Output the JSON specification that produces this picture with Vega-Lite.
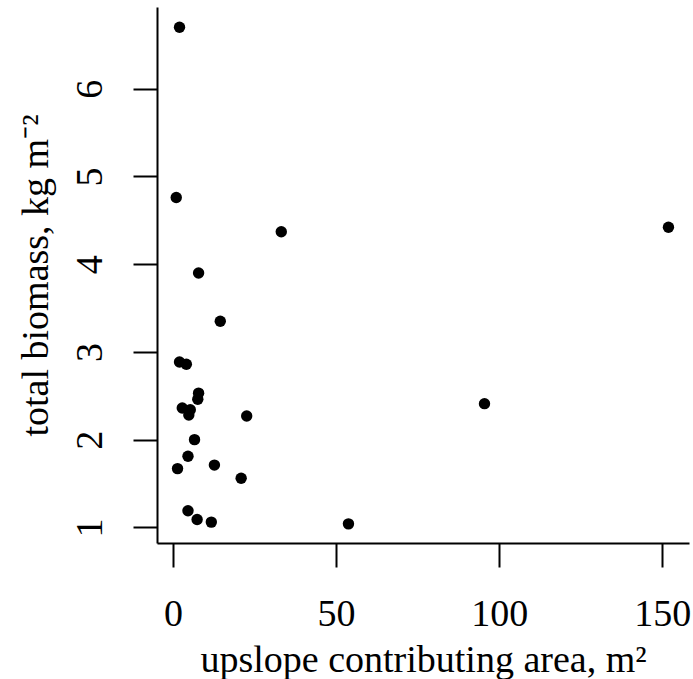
{
  "$schema": "https://vega.github.io/schema/vega-lite/v6.json",
  "autosize": {"type": "none"},
  "width": 532,
  "height": 536,
  "padding": {"left": 157, "top": 7, "right": 4, "bottom": 136},
  "background": "white",
  "data": {
    "values": [
      {"area": 2.0, "biomass": 6.70},
      {"area": 1.0, "biomass": 4.76},
      {"area": 33.2, "biomass": 4.37},
      {"area": 151.9, "biomass": 4.42},
      {"area": 7.85, "biomass": 3.90},
      {"area": 14.5, "biomass": 3.35},
      {"area": 2.0, "biomass": 2.885},
      {"area": 4.1, "biomass": 2.86},
      {"area": 7.85, "biomass": 2.53},
      {"area": 7.6, "biomass": 2.46},
      {"area": 2.85, "biomass": 2.36},
      {"area": 5.3, "biomass": 2.34},
      {"area": 4.85, "biomass": 2.28},
      {"area": 95.5, "biomass": 2.41},
      {"area": 22.6, "biomass": 2.27},
      {"area": 6.6, "biomass": 2.0},
      {"area": 4.6, "biomass": 1.81},
      {"area": 1.4, "biomass": 1.67},
      {"area": 12.7, "biomass": 1.71},
      {"area": 20.9, "biomass": 1.56},
      {"area": 4.6, "biomass": 1.19},
      {"area": 7.4, "biomass": 1.09},
      {"area": 11.75, "biomass": 1.06},
      {"area": 53.8, "biomass": 1.04}
    ]
  },
  "mark": {"type": "circle", "color": "black", "opacity": 1, "size": 130},
  "encoding": {
    "x": {
      "field": "area",
      "type": "quantitative",
      "scale": {"domain": [-4.9, 158.2], "nice": false, "zero": false},
      "axis": {
        "title": "upslope contributing area, m²",
        "values": [0, 50, 100, 150],
        "labelPadding": 28,
        "titlePadding": 8
      }
    },
    "y": {
      "field": "biomass",
      "type": "quantitative",
      "scale": {"domain": [0.822, 6.931], "nice": false, "zero": false},
      "axis": {
        "title": "total biomass, kg m⁻²",
        "values": [1, 2, 3, 4, 5, 6],
        "labelAngle": -90,
        "labelAlign": "center",
        "labelBaseline": "bottom",
        "labelPadding": 24,
        "titlePadding": 16
      }
    }
  },
  "config": {
    "view": {"stroke": null},
    "axis": {
      "grid": false,
      "domainColor": "black",
      "domainWidth": 2,
      "tickColor": "black",
      "tickWidth": 2,
      "tickSize": 24,
      "labelFont": "Liberation Serif",
      "labelFontSize": 38,
      "labelColor": "black",
      "titleFont": "Liberation Serif",
      "titleFontSize": 38,
      "titleFontWeight": "normal",
      "titleColor": "black",
      "labelOverlap": false,
      "labelFlush": false
    }
  }
}
